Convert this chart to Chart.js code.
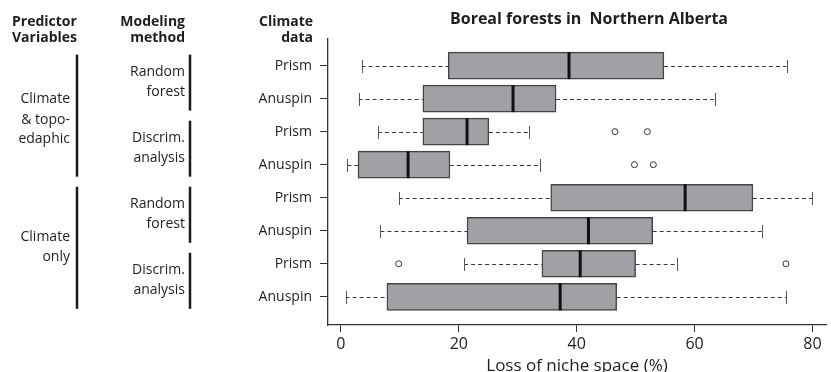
<!DOCTYPE html>
<html lang="en">
<head>
  <meta charset="UTF-8" />
  <title>Boreal forests in Northern Alberta</title>
  <script src="https://cdn.jsdelivr.net/npm/chart.js"></script>
  <style>
    body { margin: 0; background: #fff; }
    .wrap { position: relative; width: 831px; height: 372px; }
  </style>
</head>
<body>
  <div class="wrap"><canvas id="boxChart"></canvas></div>

  <script>
    // rows top to bottom
    const rows = ["Prism", "Anuspin", "Prism", "Anuspin", "Prism", "Anuspin", "Prism", "Anuspin"];
    const whiskerLow  = [3.5, 3.0, 6.3, 1.1, 9.8, 6.7, 20.9, 0.8];
    const q1          = [18.2, 13.9, 13.9, 2.9, 35.6, 21.4, 34.1, 7.8];
    const median      = [38.7, 29.2, 21.4, 11.4, 58.4, 42.0, 40.6, 37.2];
    const q3          = [54.8, 36.5, 25.1, 18.5, 69.9, 52.9, 50.0, 46.8];
    const whiskerHigh = [75.6, 63.4, 31.9, 33.7, 80.0, 71.4, 57.1, 75.5];
    const outliers    = [[], [], [46.5, 52.0], [49.8, 53.0], [], [], [9.8, 75.5], []];
    const xTicks = [0, 20, 40, 60, 80];

    const FONT = "'Open Sans', sans-serif";
    Chart.defaults.font.family = FONT;
    Chart.defaults.color = "#1e1e1e";

    const boxData = rows.map((r, i) => ({ x: [q1[i], q3[i]], y: i }));
    const outlierData = [];
    outliers.forEach((list, i) => list.forEach(v => outlierData.push({ x: v, y: i })));

    // whiskers, caps, medians
    const boxPlugin = {
      id: "boxParts",
      beforeDatasetsDraw(chart) {
        const { ctx, scales: { x, y } } = chart;
        ctx.save();
        ctx.lineWidth = 1;
        rows.forEach((r, i) => {
          const py = Math.round(y.getPixelForValue(i)) + 0.5;
          ctx.strokeStyle = "#3a3a3a";
          ctx.setLineDash([4, 3]);
          ctx.beginPath();
          ctx.moveTo(x.getPixelForValue(whiskerLow[i]), py);
          ctx.lineTo(x.getPixelForValue(q1[i]), py);
          ctx.moveTo(x.getPixelForValue(q3[i]), py);
          ctx.lineTo(x.getPixelForValue(whiskerHigh[i]), py);
          ctx.stroke();
          ctx.setLineDash([]);
          ctx.strokeStyle = "#555";
          ctx.beginPath();
          [whiskerLow[i], whiskerHigh[i]].forEach(v => {
            const px = Math.round(x.getPixelForValue(v)) + 0.5;
            ctx.moveTo(px, py - 6.5);
            ctx.lineTo(px, py + 6.5);
          });
          ctx.stroke();
        });
        ctx.restore();
      },
      afterDatasetsDraw(chart) {
        const { ctx, scales: { x, y } } = chart;
        ctx.save();
        ctx.strokeStyle = "#111";
        ctx.lineWidth = 3;
        rows.forEach((r, i) => {
          const py = y.getPixelForValue(i);
          const px = x.getPixelForValue(median[i]);
          ctx.beginPath();
          ctx.moveTo(px, py - 13.5);
          ctx.lineTo(px, py + 13.5);
          ctx.stroke();
        });
        ctx.restore();
      }
    };

    // left hand labels and group bars
    const sidePlugin = {
      id: "sideLabels",
      afterDraw(chart) {
        const { ctx, scales: { y } } = chart;
        const py = i => y.getPixelForValue(i);
        ctx.save();
        ctx.fillStyle = "#1e1e1e";
        ctx.textBaseline = "middle";

        ctx.font = "bold 16px " + FONT;
        ctx.textAlign = "center";
        ctx.fillText("Boreal forests in  Northern Alberta", 589, 19);

        ctx.font = "bold 14px " + FONT;
        ctx.textAlign = "left";
        ctx.fillText("Predictor", 12, 22);
        ctx.fillText("Variables", 12, 38);
        ctx.textAlign = "right";
        ctx.fillText("Modeling", 185, 22);
        ctx.fillText("method", 185, 38);
        ctx.fillText("Climate", 313, 22);
        ctx.fillText("data", 313, 38);

        ctx.font = "14px " + FONT;
        const mid = (a, b) => (py(a) + py(b)) / 2;
        let c = mid(0, 3) + 5;
        ctx.fillText("Climate", 70, c - 21);
        ctx.fillText("& topo-", 70, c);
        ctx.fillText("edaphic", 70, c + 19);
        c = mid(4, 7);
        ctx.fillText("Climate", 70, c - 10);
        ctx.fillText("only", 70, c + 10);
        [0, 2, 4, 6].forEach(i => {
          const m = mid(i, i + 1);
          ctx.fillText(i % 4 === 0 ? "Random" : "Discrim.", 185, m - 10);
          ctx.fillText(i % 4 === 0 ? "forest" : "analysis", 185, m + 10);
        });

        ctx.strokeStyle = "#1a1a1a";
        ctx.lineWidth = 2.5;
        const bar = (px, a, b) => {
          ctx.beginPath();
          ctx.moveTo(px, py(a) - 11);
          ctx.lineTo(px, py(b) + 12);
          ctx.stroke();
        };
        bar(77, 0, 3); bar(77, 4, 7);
        bar(190, 0, 1); bar(190, 2, 3); bar(190, 4, 5); bar(190, 6, 7);
        ctx.restore();
      }
    };

    new Chart(document.getElementById("boxChart"), {
      type: "bar",
      data: {
        datasets: [{
          data: boxData,
          backgroundColor: "#a0a1a4",
          borderColor: "#454545",
          borderWidth: 1.5,
          borderSkipped: false,
          barThickness: 27
        }, {
          type: "scatter",
          data: outlierData,
          pointRadius: 3,
          pointBackgroundColor: "#fff",
          pointBorderColor: "#333",
          pointBorderWidth: 1
        }]
      },
      options: {
        indexAxis: "y",
        responsive: true,
        maintainAspectRatio: false,
        animation: false,
        layout: { padding: { top: 39, right: 1, left: 0, bottom: 0 } },
        plugins: { legend: { display: false }, tooltip: { enabled: false } },
        scales: {
          x: {
            type: "linear",
            min: -2.19,
            max: 82.3,
            afterBuildTicks: s => { s.ticks = xTicks.map(v => ({ value: v })); },
            afterFit: s => { s.height = 47; s.paddingRight = 0; s.paddingLeft = 0; },
            border: { color: "#333", width: 1.3 },
            grid: { drawOnChartArea: false, tickLength: 7, color: "#333" },
            ticks: { font: { size: 16 }, padding: 3 },
            title: {
              display: true,
              text: "Loss of niche space (%)",
              font: { size: 17 },
              padding: { top: 0, bottom: -4 }
            }
          },
          y: {
            type: "linear",
            reverse: true,
            offset: false,
            min: -0.805,
            max: 7.853,
            afterBuildTicks: s => { s.ticks = rows.map((r, i) => ({ value: i })); },
            afterFit: s => { s.width = 328; },
            border: { color: "#333", width: 1.3 },
            grid: { offset: false, drawOnChartArea: false, tickLength: 8, color: "#333" },
            ticks: { font: { size: 14 }, padding: 8, callback: v => rows[v] }
          }
        }
      },
      plugins: [boxPlugin, sidePlugin]
    });
  </script>
</body>
</html>
